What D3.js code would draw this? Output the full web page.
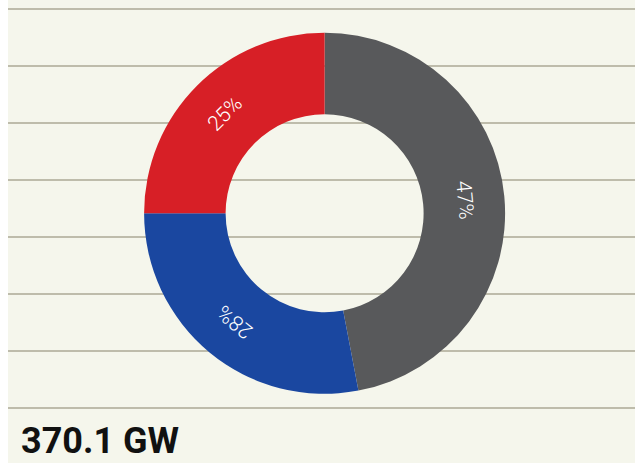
<!DOCTYPE html>
<html>
<head>
<meta charset="utf-8">
<script src="https://cdn.jsdelivr.net/npm/d3@7"></script>
<style>
  html, body { margin: 0; padding: 0; background: #ffffff; }
  svg { display: block; }
</style>
</head>
<body>
<svg id="chart" width="635" height="463"></svg>
<script>
const categories = ["Grey", "Blue", "Red"];
const values = [47, 28, 25];
const labels = ["47%", "28%", "25%"];
const colors = ["#58595b", "#1a47a0", "#d71f26"];
const totalLabel = "370.1 GW";
const gridLevels = [0, 1, 2, 3, 4, 5, 6, 7];

const W = 635, H = 463;
const svg = d3.select("#chart");

svg.append("rect").attr("x", 8).attr("y", 0).attr("width", W - 8).attr("height", H).attr("fill", "#f5f6ec");

const yGrid = d3.scaleLinear().domain([0, 7]).range([9, 408]);
svg.append("g").selectAll("line").data(gridLevels).join("line")
  .attr("x1", 8).attr("x2", W)
  .attr("y1", d => yGrid(d)).attr("y2", d => yGrid(d))
  .attr("stroke", "#bebcab").attr("stroke-width", 2);

const cx = 324.6, cy = 213.3, rOuter = 180.5, rInner = 99;
const pie = d3.pie().sort(null).value(d => d)(values);
const arc = d3.arc().innerRadius(rInner).outerRadius(rOuter);
const labelArc = d3.arc().innerRadius(141).outerRadius(141);

const g = svg.append("g").attr("transform", `translate(${cx},${cy})`);
g.selectAll("path").data(pie).join("path")
  .attr("d", arc)
  .attr("fill", (d, i) => colors[i]);

g.selectAll("text").data(pie).join("text")
  .attr("transform", d => {
    const [x, y] = labelArc.centroid(d);
    const a = (d.startAngle + d.endAngle) / 2 * 180 / Math.PI;
    return `translate(${x},${y}) rotate(${a})`;
  })
  .attr("text-anchor", "middle")
  .attr("dominant-baseline", "central")
  .attr("fill", "#ffffff")
  .attr("font-family", "Roboto, sans-serif")
  .attr("font-weight", 300)
  .attr("font-size", 21)
  .text((d, i) => labels[i]);

svg.append("text")
  .attr("x", 21).attr("y", 453)
  .attr("font-family", "Roboto, sans-serif")
  .attr("font-weight", 700)
  .attr("font-size", 36)
  .attr("fill", "#111111")
  .text(totalLabel);
</script>
</body>
</html>
